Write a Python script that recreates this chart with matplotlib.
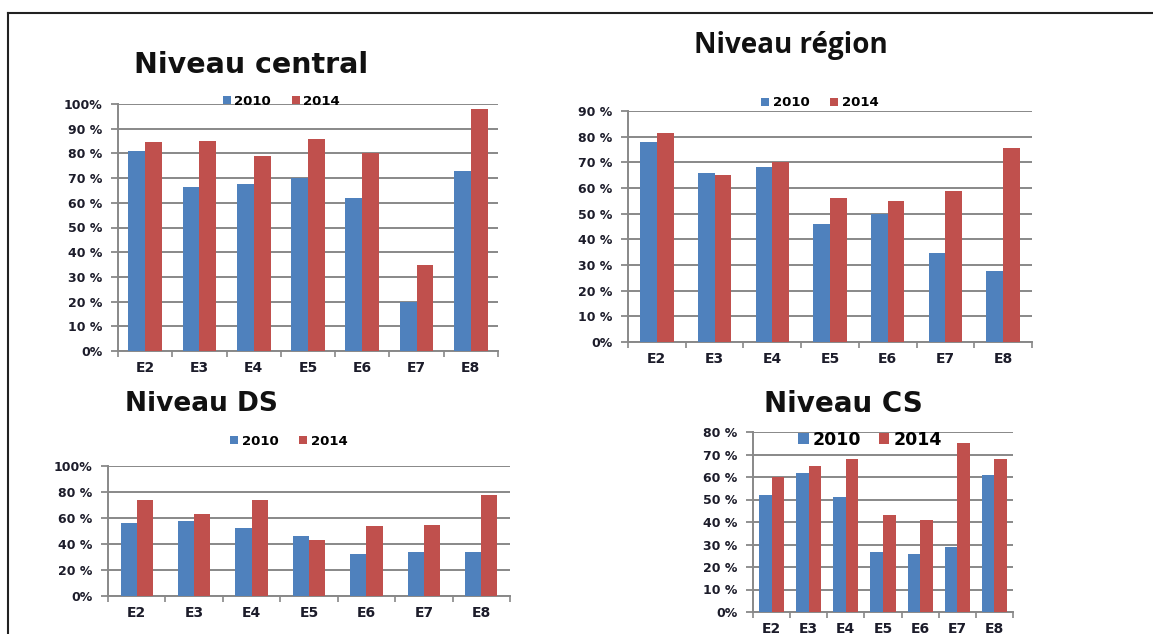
import matplotlib
matplotlib.use("Agg")
import matplotlib.pyplot as plt
from matplotlib.lines import Line2D
import numpy as np

categories = ["E2", "E3", "E4", "E5", "E6", "E7", "E8"]
series_names = ["2010", "2014"]

central_2010 = [81, 66.5, 67.5, 70, 62, 20, 73]
central_2014 = [84.5, 85, 79, 86, 80, 35, 98]

region_2010 = [78, 66, 68, 46, 50, 34.5, 27.5]
region_2014 = [81.5, 65, 70, 56, 55, 59, 75.5]

ds_2010 = [56.5, 58, 52.5, 46, 32, 33.5, 33.5]
ds_2014 = [74, 63, 74, 43, 54, 55, 78]

cs_2010 = [52, 62, 51, 26.5, 26, 29, 61]
cs_2014 = [60, 65, 68, 43, 41, 75, 68]

titles = ["Niveau central", "Niveau région", "Niveau DS", "Niveau CS"]

BLUE = "#4F81BD"
RED = "#C0504D"
GRID = "#888888"
TXT = "#1c1c2a"

W, H = 1153, 634
fig = plt.figure(figsize=(W / 100, H / 100), dpi=100)


def px_axes(l, t, r, b):
    return fig.add_axes([l / W, 1 - b / H, (r - l) / W, (b - t) / H])


def pct_labels(ticks, spaced):
    out = []
    for v in ticks:
        iv = int(round(v))
        if iv == 0 or iv == 100:
            out.append(f"{iv}%")
        else:
            out.append(f"{iv} %" if spaced else f"{iv}%")
    return out


def draw(ax, v1, v2, ymax, step, bw, leg_xy, leg_fs, tick_fs=9, colsp=1.6):
    x = np.arange(len(categories))
    ax.bar(x - bw / 2, v1, bw, color=BLUE, label=series_names[0], zorder=3)
    ax.bar(x + bw / 2, v2, bw, color=RED, label=series_names[1], zorder=3)
    ax.set_xlim(-0.5, len(categories) - 0.5)
    ax.set_ylim(0, ymax)
    yt = np.arange(0, ymax + 0.1, step)
    ax.set_yticks(yt)
    ax.set_yticklabels(pct_labels(yt, True), fontsize=tick_fs, fontweight="bold",
                       color=TXT, family="DejaVu Sans")
    ax.set_xticks(x)
    ax.set_xticklabels(categories, fontsize=tick_fs + 1, fontweight="bold",
                       color=TXT, family="DejaVu Sans")
    ax.set_xticks(np.arange(-0.5, len(categories), 1), minor=True)
    ax.tick_params(axis="x", which="major", length=0, pad=7)
    ax.tick_params(axis="x", which="minor", length=4, color=GRID, width=1.2, direction="out")
    ax.tick_params(axis="y", length=5, color=GRID, width=1.3, pad=6)
    ax.yaxis.grid(True, color=GRID, linewidth=1.4, zorder=0)
    ax.set_axisbelow(True)
    for s in ["top", "right"]:
        ax.spines[s].set_visible(False)
    for s in ["left", "bottom"]:
        ax.spines[s].set_color(GRID)
        ax.spines[s].set_linewidth(1.4)
    ax.legend(loc="center", bbox_to_anchor=leg_xy, ncol=2, frameon=False,
              handlelength=0.6, handleheight=0.6, handletextpad=0.25,
              columnspacing=colsp, borderaxespad=0,
              prop={"family": "DejaVu Sans", "weight": "bold", "size": leg_fs})


ax1 = px_axes(118, 104, 498, 351)
draw(ax1, central_2010, central_2014, 100, 10, 0.31, (0.43, 1.012), 9.5)

ax2 = px_axes(628, 111, 1032, 342)
draw(ax2, region_2010, region_2014, 90, 10, 0.29, (0.475, 1.035), 9.5)

ax3 = px_axes(108, 466, 510, 596)
draw(ax3, ds_2010, ds_2014, 100, 20, 0.28, (0.45, 1.19), 9.5)

ax4 = px_axes(753, 432, 1013, 612)
draw(ax4, cs_2010, cs_2014, 80, 10, 0.34, (0.45, 0.955), 12.5, colsp=1.0)

# titles
fig.text(251 / W, 1 - 65 / H, titles[0], ha="center", va="center",
         fontsize=20.5, fontweight="bold", family="DejaVu Sans", color="#111111")
fig.text(791 / W, 1 - 45 / H, titles[1], ha="center", va="center",
         fontsize=20, fontweight="bold", family="Open Sans", color="#111111")
fig.text(201 / W, 1 - 404 / H, titles[2], ha="center", va="center",
         fontsize=19, fontweight="bold", family="DejaVu Sans", color="#111111")
fig.text(843 / W, 1 - 404 / H, titles[3], ha="center", va="center",
         fontsize=20, fontweight="bold", family="DejaVu Sans", color="#111111")

# outer frame (top and left edges)
fig.add_artist(Line2D([8 / W, 1.0], [1 - 13 / H, 1 - 13 / H], color="#222222", lw=1.5,
                      transform=fig.transFigure))
fig.add_artist(Line2D([8 / W, 8 / W], [1 - 13 / H, 0.0], color="#222222", lw=1.5,
                      transform=fig.transFigure))

fig.savefig("out.png", dpi=100)
